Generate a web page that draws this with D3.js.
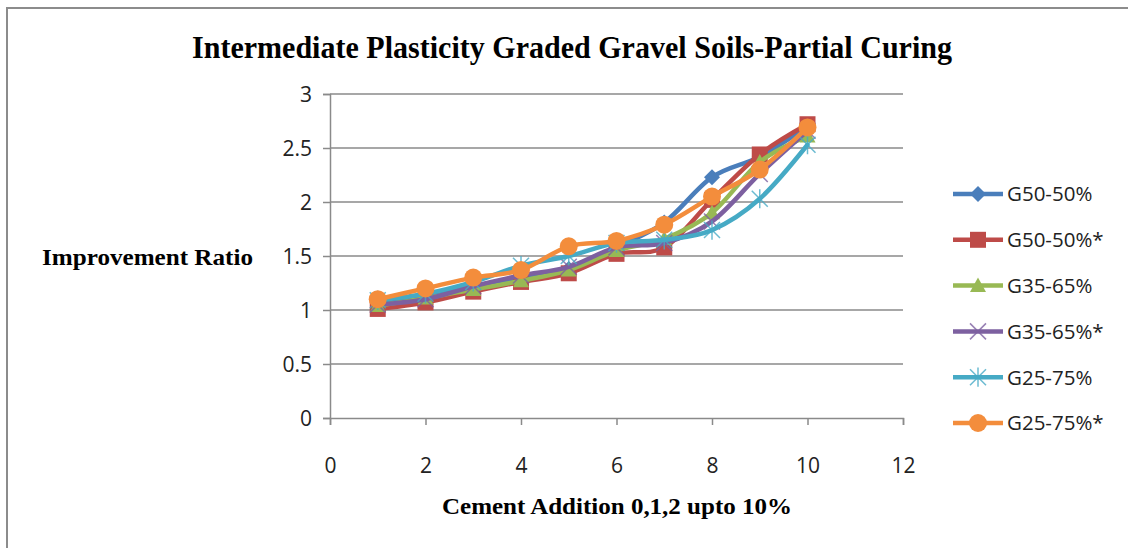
<!DOCTYPE html>
<html>
<head>
<meta charset="utf-8">
<script src="https://cdn.jsdelivr.net/npm/d3@7"></script>
<style>
  html, body { margin: 0; padding: 0; background: #fff; }
  svg { display: block; }
</style>
</head>
<body>
<svg id="chart" width="1128" height="548"></svg>
<script>
// Cement content (%) on the x axis
const cementPct = [1, 2, 3, 4, 5, 6, 7, 8, 9, 10];

// Improvement ratio for each gradation
const g5050      = [1.07, 1.13, 1.22, 1.30, 1.38, 1.58, 1.81, 2.23, 2.42, 2.70];
const g5050Star  = [1.01, 1.07, 1.17, 1.26, 1.34, 1.52, 1.58, 2.02, 2.44, 2.72];
const g3565      = [1.04, 1.11, 1.19, 1.27, 1.37, 1.55, 1.66, 1.90, 2.37, 2.61];
const g3565Star  = [1.05, 1.10, 1.22, 1.32, 1.40, 1.58, 1.62, 1.82, 2.26, 2.66];
const g2575      = [1.09, 1.15, 1.26, 1.41, 1.50, 1.62, 1.65, 1.74, 2.03, 2.53];
const g2575Star  = [1.10, 1.20, 1.30, 1.37, 1.59, 1.64, 1.79, 2.05, 2.30, 2.69];

const seriesNames = ["G50-50%", "G50-50%*", "G35-65%", "G35-65%*", "G25-75%", "G25-75%*"];
const seriesValues = [g5050, g5050Star, g3565, g3565Star, g2575, g2575Star];
const seriesColors = ["#4A7EBB", "#BE4B48", "#98B954", "#7D60A0", "#46AAC5", "#F38D3C"];
const seriesMarkers = ["diamond", "square", "triangle", "cross", "asterisk", "circle"];

const xTicks = [0, 2, 4, 6, 8, 10, 12];
const yTicks = [0, 0.5, 1, 1.5, 2, 2.5, 3];

const titleText = "Intermediate Plasticity Graded Gravel Soils-Partial Curing";
const xTitle = "Cement Addition 0,1,2 upto 10%";
const yTitle = "Improvement Ratio";

const svg = d3.select("#chart");
const sans = "'Open Sans', 'Noto Sans', sans-serif";
const serif = "'Liberation Serif', 'DejaVu Serif', serif";

// chart frame
svg.append("rect")
  .attr("x", 7).attr("y", 8).attr("width", 1140).attr("height", 560)
  .attr("fill", "#fff").attr("stroke", "#8c8c8c").attr("stroke-width", 2);

const plot = { left: 330, right: 903, top: 94, bottom: 418 };
const x = d3.scaleLinear().domain([0, 12]).range([plot.left, plot.right]);
const y = d3.scaleLinear().domain([0, 3]).range([plot.bottom, plot.top]);

// horizontal gridlines
svg.append("g").selectAll("line").data(yTicks.filter(d => d > 0)).join("line")
  .attr("x1", plot.left).attr("x2", plot.right)
  .attr("y1", d => y(d)).attr("y2", d => y(d))
  .attr("stroke", "#8a8a8a").attr("stroke-width", 1.5);

// y axis
const yAxis = svg.append("g").attr("transform", `translate(${plot.left},0)`)
  .call(d3.axisLeft(y).tickValues(yTicks).tickSize(7).tickPadding(11)
    .tickFormat(d => String(d)));
// x axis
const xAxis = svg.append("g").attr("transform", `translate(0,${plot.bottom})`)
  .call(d3.axisBottom(x).tickValues(xTicks).tickSize(7).tickPadding(33)
    .tickFormat(d => String(d)));

[yAxis, xAxis].forEach(ax => {
  ax.select(".domain").attr("stroke", "#8a8a8a").attr("stroke-width", 1.5);
  ax.selectAll(".tick line").attr("stroke", "#8a8a8a").attr("stroke-width", 1.5);
  ax.selectAll(".tick text").attr("fill", "#222")
    .style("font-family", sans).style("font-size", "21px");
});
yAxis.selectAll(".tick text").attr("dy", "0.36em");

// marker shapes
function markerPath(kind, s) {
  switch (kind) {
    case "diamond": return `M0,${-s}L${s},0L0,${s}L${-s},0Z`;
    case "square": return `M${-s},${-s}H${s}V${s}H${-s}Z`;
    case "triangle": return `M0,${-s}L${s},${s * 0.8}L${-s},${s * 0.8}Z`;
    case "cross": return `M${-s},${-s}L${s},${s}M${-s},${s}L${s},${-s}`;
    case "asterisk": return `M${-s},${-s}L${s},${s}M${-s},${s}L${s},${-s}M0,${-s * 1.2}V${s * 1.2}`;
    default: return "";
  }
}
function drawMarker(g, kind, color) {
  if (kind === "circle") {
    g.append("circle").attr("r", 9).attr("fill", color);
  } else if (kind === "cross" || kind === "asterisk") {
    g.append("path").attr("d", markerPath(kind, 8))
      .attr("fill", "none").attr("stroke", color).attr("stroke-width", 1.5).attr("opacity", 0.8);
  } else {
    g.append("path").attr("d", markerPath(kind, 8)).attr("fill", color);
  }
}

const line = d3.line()
  .x((d, i) => x(cementPct[i]))
  .y(d => y(d))
  .curve(d3.curveCatmullRom.alpha(0));

seriesValues.forEach((vals, k) => {
  const g = svg.append("g");
  g.append("path").attr("d", line(vals))
    .attr("fill", "none").attr("stroke", seriesColors[k])
    .attr("stroke-width", 4.5).attr("stroke-linejoin", "round").attr("stroke-linecap", "round");
  vals.forEach((v, i) => {
    const m = g.append("g").attr("transform", `translate(${x(cementPct[i])},${y(v)})`);
    drawMarker(m, seriesMarkers[k], seriesColors[k]);
  });
});

// legend
const legend = svg.append("g");
seriesNames.forEach((name, k) => {
  const ly = 194 + k * 45.8;
  legend.append("line").attr("x1", 953).attr("x2", 1003).attr("y1", ly).attr("y2", ly)
    .attr("stroke", seriesColors[k]).attr("stroke-width", 4.5);
  const m = legend.append("g").attr("transform", `translate(978,${ly})`);
  drawMarker(m, seriesMarkers[k], seriesColors[k]);
  legend.append("text").attr("x", 1007).attr("y", ly).attr("dy", "0.36em")
    .attr("fill", "#222")
    .style("font-family", sans).style("font-size", "20.5px")
    .text(name);
});

// titles
svg.append("text").attr("x", 572).attr("y", 58).attr("text-anchor", "middle")
  .attr("textLength", 760).attr("lengthAdjust", "spacingAndGlyphs")
  .style("font-family", serif).style("font-weight", "bold").style("font-size", "32px")
  .text(titleText);
svg.append("text").attr("x", 42).attr("y", 265)
  .attr("textLength", 211).attr("lengthAdjust", "spacingAndGlyphs")
  .style("font-family", serif).style("font-weight", "bold").style("font-size", "24px")
  .text(yTitle);
svg.append("text").attr("x", 617).attr("y", 514).attr("text-anchor", "middle")
  .attr("textLength", 350).attr("lengthAdjust", "spacingAndGlyphs")
  .style("font-family", serif).style("font-weight", "bold").style("font-size", "24px")
  .text(xTitle);
</script>
</body>
</html>
